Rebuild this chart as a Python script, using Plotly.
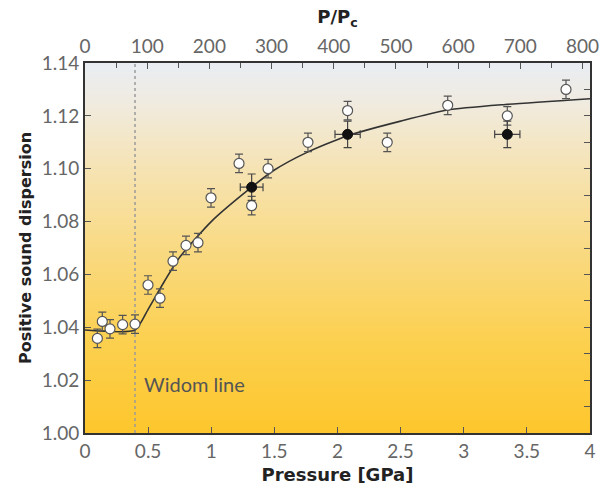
import plotly.graph_objects as go

# open circles
open_x = [0.098, 0.137, 0.198, 0.298, 0.396, 0.499, 0.594, 0.697, 0.80, 0.895, 0.998,
          1.22, 1.32, 1.45, 1.766, 2.08, 2.394, 2.873, 3.345, 3.81]
open_y = [1.0358, 1.0422, 1.0394, 1.041, 1.0412, 1.056, 1.051, 1.065, 1.071, 1.072, 1.089,
          1.102, 1.086, 1.100, 1.110, 1.122, 1.110, 1.124, 1.120, 1.130]
open_err = [0.0035] * len(open_x)

# filled circles
fill_x = [1.32, 2.08, 3.345]
fill_y = [1.093, 1.113, 1.113]
fill_xerr = [0.09, 0.1, 0.1]
fill_yerr = [0.005, 0.005, 0.005]

# fitted curve
fit_x = [0.0, 0.396, 0.5, 0.634, 0.75, 1.0, 1.32, 1.5, 1.75, 2.08, 2.5, 2.87, 3.33, 4.0]
fit_y = [1.039, 1.039, 1.0468, 1.0578, 1.0665, 1.080, 1.093, 1.0995, 1.106, 1.1125, 1.118,
         1.1222, 1.1243, 1.1265]

widom_x = 0.396
x_ticks = [0, 0.5, 1, 1.5, 2, 2.5, 3, 3.5, 4]
x_labels = ["0", "0.5", "1", "1.5", "2", "2.5", "3", "3.5", "4"]
y_ticks = [1.00, 1.02, 1.04, 1.06, 1.08, 1.10, 1.12, 1.14]
y_labels = ["1.00", "1.02", "1.04", "1.06", "1.08", "1.10", "1.12", "1.14"]

FONT = "Lato"
TFONT = "DejaVu Sans"
TICKC = "#666666"

fig = go.Figure()

# gradient background
fig.add_trace(go.Heatmap(
    x=[0, 4], y=[1.00, 1.035, 1.07, 1.10, 1.125, 1.14],
    z=[[0, 0], [0.3, 0.3], [0.55, 0.55], [0.75, 0.75], [0.9, 0.9], [1, 1]],
    zsmooth="best", showscale=False, hoverinfo="skip", zmin=0, zmax=1,
    colorscale=[[0, "#fdc62c"], [0.3, "#fcd04f"], [0.55, "#f9da83"],
                [0.75, "#f6e3b3"], [0.9, "#f0ebdf"], [1, "#e9edf3"]]))

# widom line
fig.add_trace(go.Scatter(x=[widom_x, widom_x], y=[1.0, 1.14], mode="lines",
                         line=dict(color="#9a9a9a", width=1.5, dash="dot"),
                         showlegend=False, hoverinfo="skip"))

# fit
fig.add_trace(go.Scatter(x=fit_x, y=fit_y, mode="lines",
                         line=dict(color="#333333", width=1.6, shape="spline", smoothing=0.6),
                         showlegend=False))

fig.add_trace(go.Scatter(
    x=open_x, y=open_y, mode="markers",
    marker=dict(symbol="circle", size=10, color="white", line=dict(color="#555555", width=1.2)),
    error_y=dict(type="data", array=open_err, color="#555555", thickness=1.2, width=4),
    showlegend=False))

fig.add_trace(go.Scatter(
    x=fill_x, y=fill_y, mode="markers",
    marker=dict(symbol="circle", size=10, color="#111111", line=dict(color="#111111", width=1)),
    error_y=dict(type="data", array=fill_yerr, color="#444444", thickness=1.2, width=4),
    error_x=dict(type="data", array=fill_xerr, color="#444444", thickness=1.2, width=4),
    showlegend=False))

# invisible traces on secondary axes
fig.add_trace(go.Scatter(x=[0, 812], y=[1.0, 1.0], xaxis="x2", yaxis="y", mode="lines",
                         line=dict(width=0), showlegend=False, hoverinfo="skip"))
fig.add_trace(go.Scatter(x=[0, 4], y=[1.0, 1.14], xaxis="x", yaxis="y2", mode="lines",
                         line=dict(width=0), showlegend=False, hoverinfo="skip"))

fig.add_annotation(x=0.45, y=1.0185, text="Widom line", showarrow=False, xanchor="left",
                   font=dict(family=FONT, size=20, color="#555555"))

axis_common = dict(showgrid=False, zeroline=False, showline=True, linecolor="#333333",
                   linewidth=2, ticks="inside", tickcolor="#555555", ticklen=6, tickwidth=1.2,
                   automargin=False, ticklabeloverflow="allow",
                   tickfont=dict(family=FONT, size=19, color=TICKC))

fig.update_layout(
    width=600, height=490,
    margin=dict(l=85, r=10, t=63, b=57),
    paper_bgcolor="white", plot_bgcolor="white",
    xaxis=dict(range=[0, 4], tickvals=x_ticks, ticktext=x_labels, **axis_common,
               title=dict(text="<b>Pressure [GPa]</b>", standoff=8,
                          font=dict(family=TFONT, size=18, color="#222222"))),
    xaxis2=dict(range=[0, 812], overlaying="x", side="top", dtick=100, **axis_common,
                minor=dict(dtick=50, ticks="inside", ticklen=5, tickcolor="#555555"),
                title=dict(text="<b>P/P<sub>c</sub></b>", standoff=6,
                           font=dict(family=TFONT, size=18, color="#222222"))),
    yaxis=dict(range=[1.0, 1.14], tickvals=y_ticks, ticktext=y_labels, **axis_common,
               title=dict(text="<b>Positive sound dispersion</b>", standoff=6,
                          font=dict(family=TFONT, size=16, color="#222222"))),
    yaxis2=dict(range=[1.0, 1.14], overlaying="y", side="right", dtick=0.01,
                showticklabels=False, **axis_common),
)

fig.write_html("out.html")
